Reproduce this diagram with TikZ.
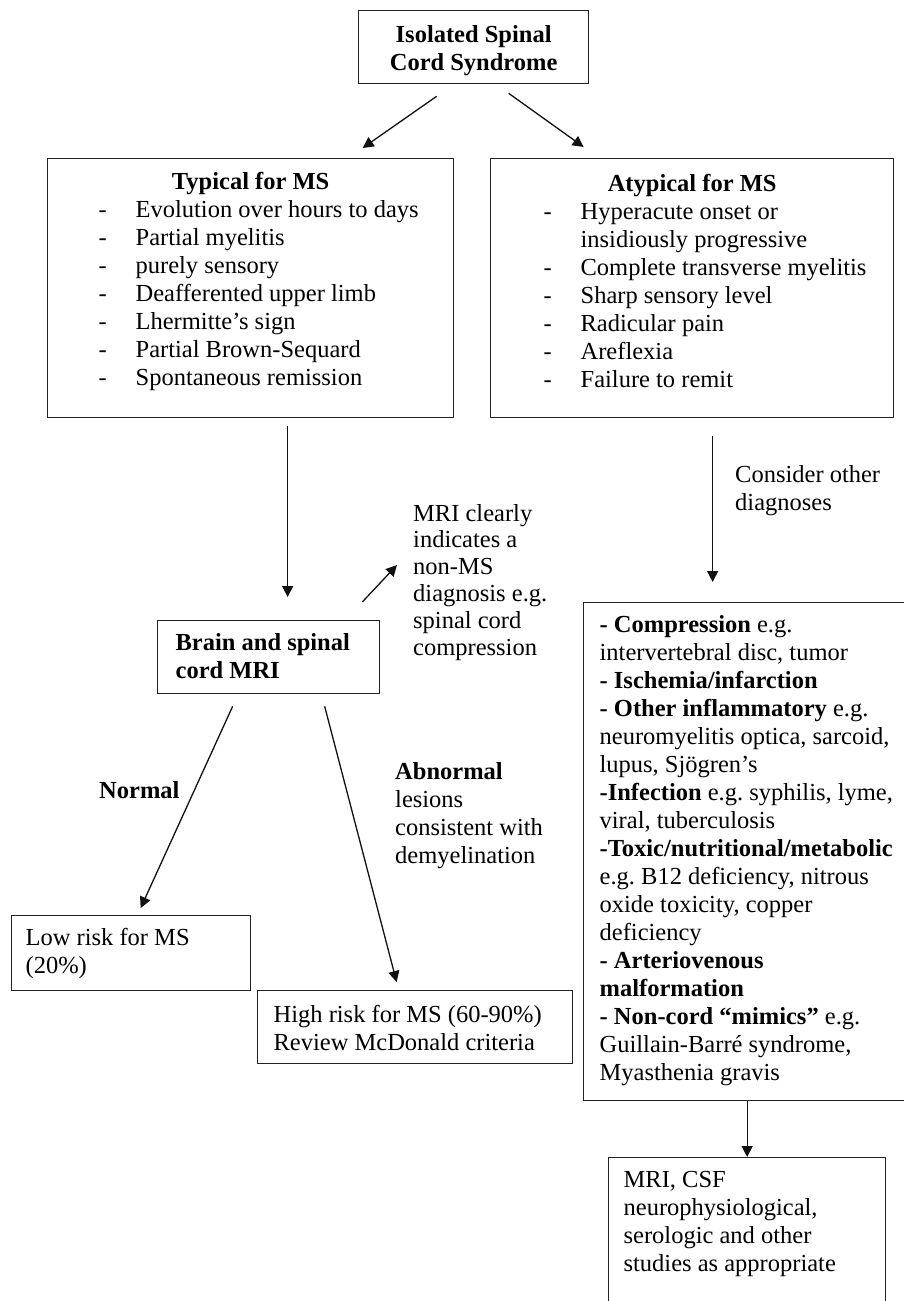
\documentclass[tikz,border=0pt]{standalone}
\usepackage{fontspec}
\setmainfont{Liberation Serif}
\usetikzlibrary{arrows.meta}
\definecolor{boxline}  {HTML}{222222}
\definecolor{arrowline}{HTML}{111111}
\newcommand\bodyfont{\fontsize{24.5}{28}\selectfont\frenchspacing}
\newcommand\dashitem{\makebox[37pt][l]{-}}
\tikzset{
  card/.style={
    draw=boxline, line width=1.3pt, anchor=north west,
    inner sep=0pt, align=flush left, font=\bodyfont
  },
  tag/.style={
    anchor=base west, inner sep=0pt, align=flush left, font=\bodyfont
  },
  flow/.style={-{Triangle[length=11pt,width=11pt]}, line width=1.3pt, draw=arrowline}
}
\begin{document}
\begin{tikzpicture}[x=1pt, y=-1pt]
  \clip (0,0) rectangle (904,1301);
  \fill[white] (0,0) rectangle (904,1301);

  % boxes
  \node[card, align=flush center, font=\bodyfont\bfseries,
        text width=230pt, text height=32pt, text depth=41pt]
    (isc) at (358,10) {Isolated Spinal\\Cord Syndrome};

  \node[card, text width=406pt, text height=31pt, text depth=228pt]
    (typ) at (47,158)
    {{\centering\bfseries Typical for MS\par}\leftskip=51pt
     \dashitem Evolution over hours to days\\
     \dashitem Partial myelitis\\
     \dashitem purely sensory\\
     \dashitem Deafferented upper limb\\
     \dashitem Lhermitte’s sign\\
     \dashitem Partial Brown-Sequard\\
     \dashitem Spontaneous remission\par};

  \node[card, text width=403pt, text height=33pt, text depth=226pt]
    (atyp) at (490,158)
    {{\centering\bfseries Atypical for MS\par}\leftskip=53pt
     \dashitem Hyperacute onset or\\
     \hspace*{37pt}insidiously progressive\\
     \dashitem Complete transverse myelitis\\
     \dashitem Sharp sensory level\\
     \dashitem Radicular pain\\
     \dashitem Areflexia\\
     \dashitem Failure to remit\par};

  \node[card, font=\bodyfont\bfseries,
        text width=222pt, text height=30pt, text depth=43pt]
    (mri) at (157,620)
    {\leftskip=18pt Brain and spinal\\cord MRI\par};

  \node[card, text width=327pt, text height=30pt, text depth=468pt]
    (diff) at (583,602)
    {\leftskip=16pt
     \textbf{- Compression} e.g.\\
     intervertebral disc, tumor\\
     \textbf{- Ischemia/infarction}\\
     \textbf{- Other inflammatory} e.g.\\
     neuromyelitis optica, sarcoid,\\
     lupus, Sjögren’s\\
     \textbf{-Infection} e.g. syphilis, lyme,\\
     viral, tuberculosis\\
     \textbf{-Toxic/nutritional/metabolic}\\
     e.g. B12 deficiency, nitrous\\
     oxide toxicity, copper\\
     deficiency\\
     \textbf{- Arteriovenous}\\
     \textbf{malformation}\\
     \textbf{- Non-cord “mimics”} e.g.\\
     Guillain-Barré syndrome,\\
     Myasthenia gravis\par};

  \node[card, text width=277pt, text height=30pt, text depth=133pt]
    (work) at (608,1157)
    {\leftskip=15pt MRI, CSF\\neurophysiological,\\serologic and other\\studies as appropriate\par};

  \node[card, text width=239pt, text height=30pt, text depth=45pt]
    (low) at (11,915)
    {\leftskip=14pt Low risk for MS\\(20\%)\par};

  \node[card, text width=315pt, text height=32pt, text depth=41pt]
    (high) at (257,990)
    {\leftskip=16pt High risk for MS (60-90\%)\\Review McDonald criteria\par};

  % free labels
  \node[tag, text width=150pt, font=\fontsize{24.5}{26.8}\selectfont\frenchspacing]
    (note) at (413,521)
    {MRI clearly\\indicates a\\non-MS\\diagnosis e.g.\\spinal cord\\compression};
  \node[tag, text width=160pt] (cons) at (735,482) {Consider other\\diagnoses};
  \node[tag, text width=100pt, font=\bodyfont\bfseries] (nrm) at (99,798) {Normal};
  \node[tag, text width=180pt] (abn) at (395,779)
    {\textbf{Abnormal}\\lesions\\consistent with\\demyelination};

  % arrows
  \draw[flow] ([xshift=-37pt,yshift=-12pt]isc.south) -- ([xshift=112pt,yshift=10pt]typ.north);
  \draw[flow] ([xshift=35pt,yshift=-9pt]isc.south) -- ([xshift=-108.5pt,yshift=11pt]atyp.north);
  \draw[flow] ([xshift=37pt,yshift=-8pt]typ.south) -- ([xshift=19pt,yshift=23pt]mri.north);
  \draw[flow] ([xshift=-18pt,yshift=18pt]mri.north east) -- ([xshift=-16pt,yshift=-44pt]note.base west);
  \draw[flow] ([xshift=20.5pt,yshift=-18pt]atyp.south) -- ([xshift=-34.5pt,yshift=20pt]diff.north);
  \draw[flow] ([xshift=-36pt,yshift=-12pt]mri.south) -- ([xshift=9.5pt,yshift=7pt]low.north);
  \draw[flow] ([xshift=56pt,yshift=-12pt]mri.south) -- ([xshift=-18.5pt,yshift=8pt]high.north);
  \draw[flow] (diff.south) -- (work.north);
\end{tikzpicture}
\end{document}
